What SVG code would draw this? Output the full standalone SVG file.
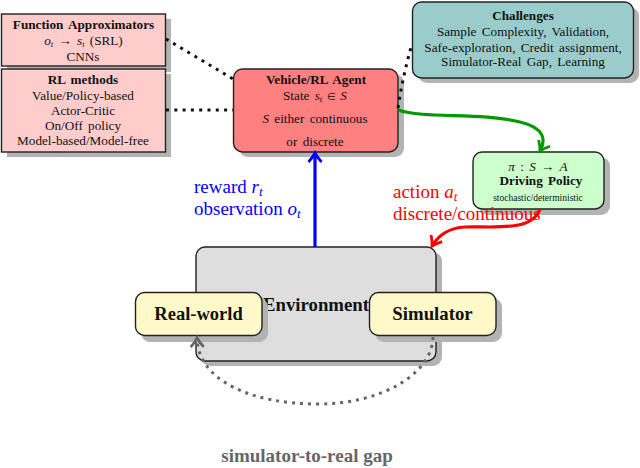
<svg xmlns="http://www.w3.org/2000/svg" width="640" height="468" viewBox="0 0 640 468">
<defs>
<marker id="ab" markerUnits="userSpaceOnUse" markerWidth="18" markerHeight="18" refX="13" refY="9" orient="auto"><path d="M4 2.500 Q9 7 13 9 Q9 11 4 15.500" fill="none" stroke="#0000ff" stroke-width="2.800"/></marker>
<marker id="ag" markerUnits="userSpaceOnUse" markerWidth="18" markerHeight="18" refX="13" refY="9" orient="auto"><path d="M4 2.500 Q9 7 13 9 Q9 11 4 15.500" fill="none" stroke="#009900" stroke-width="2.800"/></marker>
<marker id="ar" markerUnits="userSpaceOnUse" markerWidth="18" markerHeight="18" refX="13" refY="9" orient="auto"><path d="M4 2.500 Q9 7 13 9 Q9 11 4 15.500" fill="none" stroke="#ff0000" stroke-width="2.800"/></marker>
<marker id="ak" markerUnits="userSpaceOnUse" markerWidth="18" markerHeight="18" refX="13" refY="9" orient="auto"><path d="M4 2.500 Q9 7 13 9 Q9 11 4 15.500" fill="none" stroke="#666" stroke-width="2.800"/></marker>
</defs>
<style>
text{font-family:"Liberation Serif","Times New Roman",serif;fill:#111;text-anchor:middle}
.b{font-weight:bold}
.i{font-style:italic}
.box{stroke:#222;stroke-width:1.400}
.sh{fill:#b3b3b3}
.s12{font-size:13.200px;word-spacing:2px}
.dot{fill:none;stroke:#111;stroke-width:3;stroke-dasharray:3 5.300}
.lab{font-size:19px;text-anchor:start}
</style>
<g id="environment">
<rect class="sh" x="201" y="252" width="241" height="114" rx="9"/>
<rect class="box" x="196" y="247" width="240" height="114" rx="9" fill="#dedede"/>
<text class="b" x="316" y="311" font-size="18.800">Environment</text>
</g>
<g id="function-approximators">
<rect class="sh" x="7" y="19" width="164" height="53"/>
<rect class="box" x="1.500" y="14" width="164" height="52" fill="#ffcccc"/>
<text class="b s12" x="83.500" y="29">Function Approximators</text>
<text class="s12" x="83.500" y="45" font-size="12.600"><tspan class="i">o<tspan dy="1.500" font-size="8.500">t</tspan></tspan><tspan dy="-1.500"> → </tspan><tspan class="i">s<tspan dy="1.500" font-size="8.500">t</tspan></tspan><tspan dy="-1.500"> (SRL)</tspan></text>
<text class="s12" x="83" y="61">CNNs</text>
</g>
<g id="rl-methods">
<rect class="sh" x="7" y="74" width="164" height="83"/>
<rect class="box" x="1.500" y="69" width="164" height="83" fill="#ffcccc"/>
<text class="b s12" x="83" y="84">RL methods</text>
<text class="s12" x="83" y="100">Value/Policy-based</text>
<text class="s12" x="83" y="115">Actor-Critic</text>
<text class="s12" x="83" y="130">On/Off policy</text>
<text class="s12" x="83" y="145">Model-based/Model-free</text>
</g>
<g id="agent">
<rect class="sh" x="239" y="74" width="165" height="83" rx="9"/>
<rect class="box" x="233.500" y="69" width="164.500" height="83" rx="9" fill="#ff8080"/>
<text class="b s12" x="316" y="84">Vehicle/RL Agent</text>
<text class="s12" x="315" y="100">State <tspan class="i">s<tspan dy="2" font-size="9">t</tspan></tspan><tspan dy="-2" font-size="10"> ∈ </tspan><tspan class="i">S</tspan></text>
<text class="s12" x="315" y="123"><tspan class="i">S</tspan> either continuous</text>
<text class="s12" x="315" y="146">or discrete</text>
</g>
<g id="challenges">
<rect class="sh" x="418" y="7" width="221" height="76" rx="9"/>
<rect class="box" x="412.500" y="2" width="221" height="76" rx="9" fill="#9acccc"/>
<text class="b s12" x="523" y="20">Challenges</text>
<text class="s12" x="523" y="36">Sample Complexity, Validation,</text>
<text class="s12" x="523" y="52">Safe-exploration, Credit assignment,</text>
<text class="s12" x="523" y="66">Simulator-Real Gap, Learning</text>
</g>
<g id="policy">
<rect class="sh" x="479" y="157" width="131" height="58" rx="9"/>
<rect class="box" x="473" y="152" width="131" height="57" rx="9" fill="#ccffcc"/>
<text class="s12" x="538" y="171"><tspan class="i">π</tspan> : <tspan class="i">S</tspan> → <tspan class="i">A</tspan></text>
<text class="b s12" x="541" y="185">Driving Policy</text>
<text x="538" y="201" font-size="9.500">stochastic/deterministic</text>
</g>
<g id="real-world">
<rect class="sh" x="141" y="298" width="127" height="44" rx="9"/>
<rect class="box" x="135.500" y="292.500" width="126.500" height="43" rx="9" fill="#fff8c8"/>
<text class="b" x="198.500" y="320" font-size="18.500">Real-world</text>
</g>
<g id="simulator">
<rect class="sh" x="375" y="298" width="127" height="44" rx="9"/>
<rect class="box" x="369.500" y="292.500" width="126.500" height="43" rx="9" fill="#fff8c8"/>
<text class="b" x="432.500" y="320" font-size="18.800">Simulator</text>
</g>
<g id="connectors">
<path class="dot" d="M166 39 L233 79"/>
<path class="dot" d="M166 110 L233 110"/>
<path class="dot" d="M398 108 Q403 75 412 44"/>
<path d="M398 110 C425 119 480 112 520 122 C545 128 546 140 540 151" fill="none" stroke="#009900" stroke-width="3.200" marker-end="url(#ag)"/>
<path d="M315 247 L315 153" fill="none" stroke="#0000ff" stroke-width="3.200" marker-end="url(#ab)"/>
<path d="M540 209 C532 232 495 226 465 227 C447 228 438 236 432 246" fill="none" stroke="#ff0000" stroke-width="3.200" marker-end="url(#ar)"/>
<path d="M433 337 C432 375 380 404 318 404 C250 404 198 380 197 338" fill="none" stroke="#666" stroke-width="3" stroke-dasharray="3 5" marker-end="url(#ak)"/>
</g>
<g id="labels">
<text class="lab" x="194" y="193" style="fill:#0000ff">reward <tspan class="i" style="fill:#0000ff">r<tspan dy="3" font-size="13">t</tspan></tspan></text>
<text class="lab" x="194" y="215" style="fill:#0000ff">observation <tspan class="i" style="fill:#0000ff">o<tspan dy="3" font-size="13">t</tspan></tspan></text>
<text class="lab" x="393" y="198" style="fill:#ff0000">action <tspan class="i" style="fill:#ff0000">a<tspan dy="3" font-size="13">t</tspan></tspan></text>
<text class="lab" x="393" y="220" style="fill:#ff0000">discrete/continuous</text>
<text class="b" x="307" y="462" font-size="19" style="fill:#666">simulator-to-real gap</text>
</g>
</svg>
